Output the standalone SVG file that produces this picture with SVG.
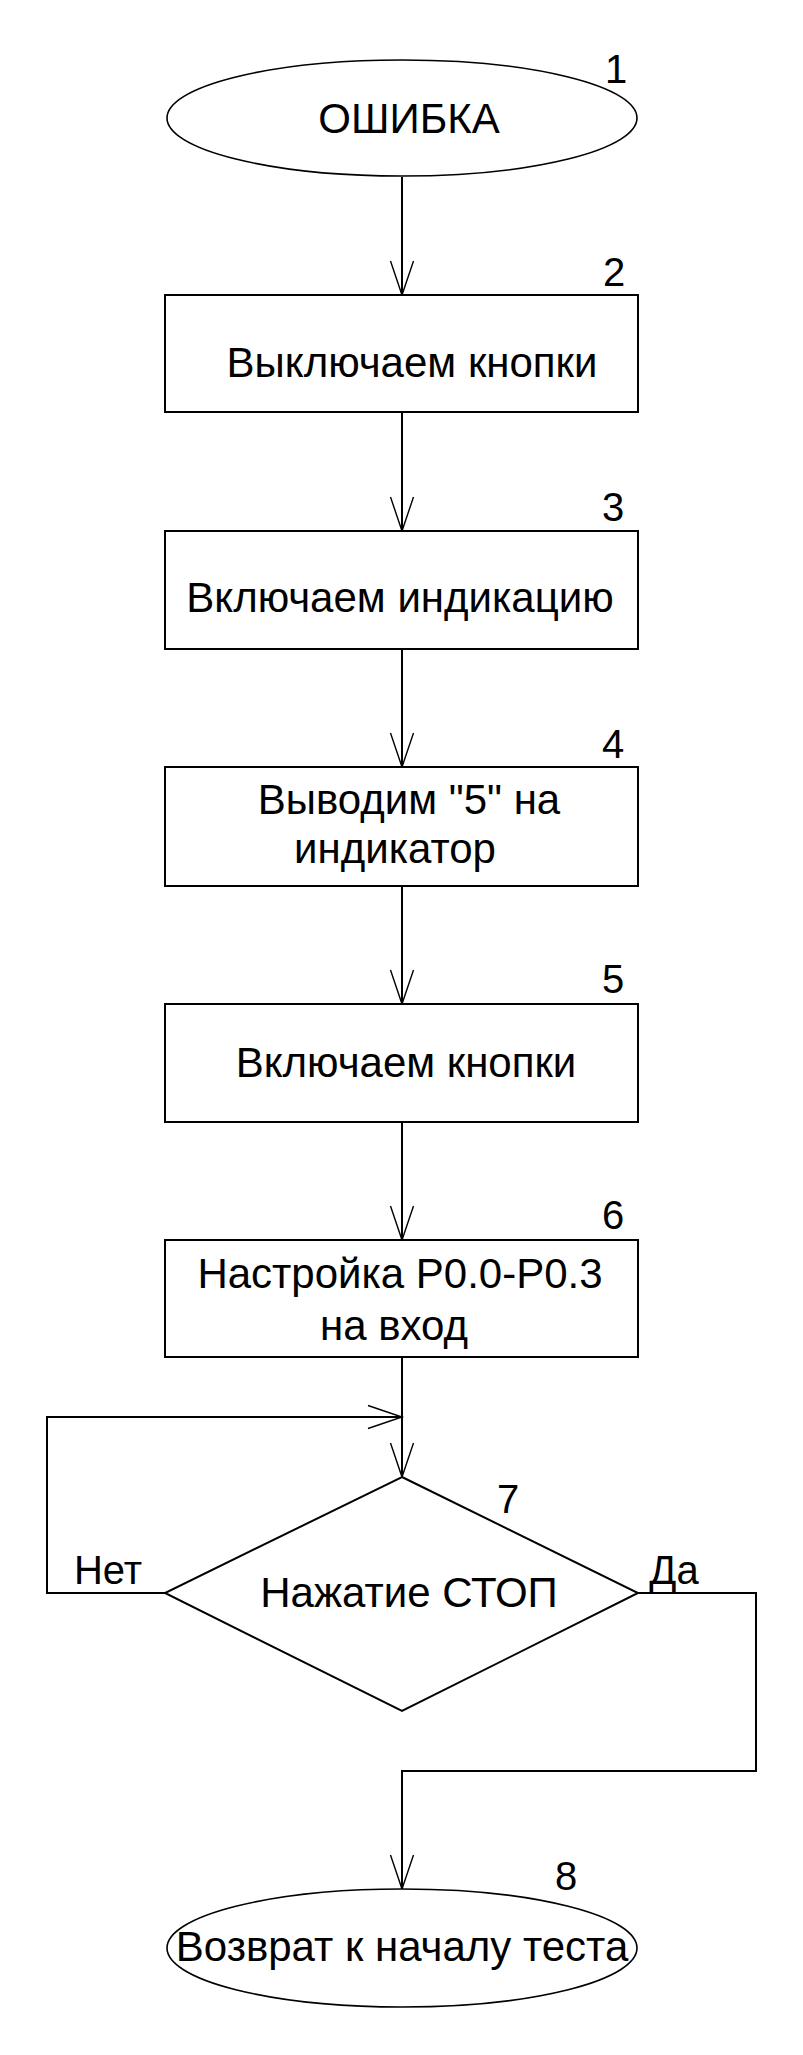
<svg xmlns="http://www.w3.org/2000/svg" width="803" height="2055" viewBox="0 0 803 2055">
<style>
.shape{fill:#fff;stroke:#000;stroke-width:2}
.ell{fill:#fff;stroke:#000;stroke-width:1.6}
.t{font-family:"Liberation Sans",Arial,sans-serif;font-size:42px;fill:#000;text-anchor:middle}
.n{font-family:"Liberation Sans",Arial,sans-serif;font-size:40px;fill:#000;text-anchor:middle}
.conn{fill:none;stroke:#000;stroke-width:2}
</style>
<defs>
<marker id="arr" markerUnits="userSpaceOnUse" viewBox="-36 -13 38 26" refX="0" refY="0" markerWidth="38" markerHeight="26" orient="auto" overflow="visible">
<path d="M-34,-11.5 L0,0 L-34,11.5" fill="none" stroke="#000" stroke-width="1.4"/>
</marker>
</defs>
<rect width="803" height="2055" fill="#fff"/>
<g id="connectors">
<line class="conn" x1="402" y1="177" x2="402" y2="295" marker-end="url(#arr)"/>
<line class="conn" x1="402" y1="412" x2="402" y2="531" marker-end="url(#arr)"/>
<line class="conn" x1="402" y1="649" x2="402" y2="767" marker-end="url(#arr)"/>
<line class="conn" x1="402" y1="886" x2="402" y2="1004" marker-end="url(#arr)"/>
<line class="conn" x1="402" y1="1122" x2="402" y2="1240" marker-end="url(#arr)"/>
<line class="conn" x1="402" y1="1357" x2="402" y2="1477" marker-end="url(#arr)"/>
<polyline class="conn" points="165,1593 47,1593 47,1417 402,1417" marker-end="url(#arr)"/>
<polyline class="conn" points="638,1593 756,1593 756,1771 402,1771 402,1889" marker-end="url(#arr)"/>
<text class="n" x="108" y="1584">Нет</text>
<text class="n" x="674" y="1584">Да</text>
</g>
<g id="n1">
<ellipse class="ell" cx="402" cy="118" rx="235" ry="58"/>
<text class="t" x="409" y="133">ОШИБКА</text>
<text class="n" x="616" y="83">1</text>
</g>
<g id="n2">
<rect class="shape" x="165" y="295" width="473" height="117"/>
<text class="t" x="412" y="377">Выключаем кнопки</text>
<text class="n" x="614" y="286">2</text>
</g>
<g id="n3">
<rect class="shape" x="165" y="531" width="473" height="118"/>
<text class="t" x="400" y="612">Включаем индикацию</text>
<text class="n" x="613" y="521">3</text>
</g>
<g id="n4">
<rect class="shape" x="165" y="767" width="473" height="119"/>
<text class="t" x="409" y="814">Выводим "5" на</text>
<text class="t" x="395" y="863">индикатор</text>
<text class="n" x="613" y="758">4</text>
</g>
<g id="n5">
<rect class="shape" x="165" y="1004" width="473" height="118"/>
<text class="t" x="406" y="1077">Включаем кнопки</text>
<text class="n" x="613" y="993">5</text>
</g>
<g id="n6">
<rect class="shape" x="165" y="1240" width="473" height="117"/>
<text class="t" x="400" y="1288">Настройка P0.0-P0.3</text>
<text class="t" x="394" y="1340">на вход</text>
<text class="n" x="613" y="1229">6</text>
</g>
<g id="n7">
<polygon class="shape" points="402,1477 638,1593 402,1711 165,1593"/>
<text class="t" x="409" y="1607">Нажатие СТОП</text>
<text class="n" x="508" y="1513">7</text>
</g>
<g id="n8">
<ellipse class="ell" cx="402" cy="1948" rx="235" ry="59"/>
<text class="t" x="402" y="1961">Возврат к началу теста</text>
<text class="n" x="566" y="1890">8</text>
</g>
</svg>
